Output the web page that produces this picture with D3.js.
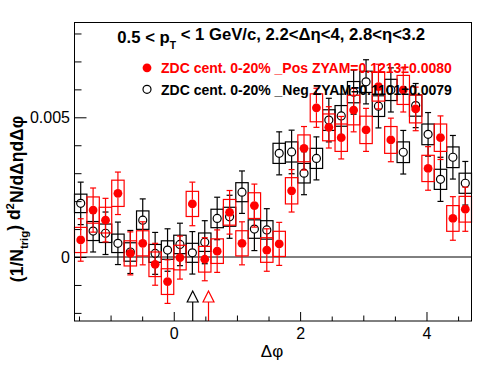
<!DOCTYPE html>
<html><head><meta charset="utf-8">
<script src="https://cdn.jsdelivr.net/npm/d3@7"></script>
<style>body{margin:0;background:#fff} svg{display:block;font-family:"Liberation Sans",Arial,Helvetica,sans-serif}</style>
</head><body><svg id="c" width="496" height="374"></svg>
<script>
// ---- data (values in units of 1e-3) ----
const nBins = 32;
const posVals = [0.61,1.68,1.32,2.28,0.13,0.49,-0.26,-0.88,-0.02,1.90,-0.08,0.21,1.60,0.49,1.84,0.25,
                 0.47,2.37,3.89,5.34,4.64,4.27,5.26,4.55,6.10,4.19,5.98,5.30,3.17,4.27,1.38,1.71];
const posStat = [0.76,0.79,0.78,0.76,0.77,0.77,0.75,0.78,0.77,0.78,0.77,0.76,0.78,0.77,0.77,0.76,
                 0.77,0.76,0.78,0.70,0.74,0.76,0.78,0.77,0.80,0.78,0.79,0.78,0.78,0.78,0.78,0.79];
const posSyst = [0.45,0.47,0.46,0.47,0.45,0.45,0.44,0.46,0.44,0.45,0.46,0.44,0.46,0.45,0.46,0.44,
                 0.45,0.47,0.48,0.50,0.48,0.49,0.53,0.49,0.52,0.48,0.52,0.50,0.47,0.49,0.46,0.46];
const negVals = [1.92,0.93,0.85,0.49,0.18,1.32,0.13,0.25,0.45,0.15,0.53,1.38,1.44,2.32,1.00,0.97,
                 3.71,3.76,3.00,3.53,4.90,5.05,5.90,6.27,5.40,5.98,3.75,5.42,4.39,2.78,3.57,2.64];
const negStat = [0.76,0.75,0.76,0.76,0.77,0.76,0.75,0.76,0.76,0.76,0.77,0.76,0.77,0.76,0.77,0.76,
                 0.77,0.78,0.77,0.77,0.78,0.78,0.79,0.79,0.78,0.79,0.78,0.79,0.78,0.79,0.78,0.78];
const negSyst = [0.33,0.34,0.33,0.33,0.33,0.33,0.32,0.33,0.33,0.34,0.33,0.33,0.34,0.34,0.33,0.33,
                 0.36,0.36,0.35,0.36,0.37,0.37,0.38,0.38,0.37,0.38,0.37,0.38,0.37,0.36,0.37,0.36];
const zyamMinPos = 0.55, zyamMinNeg = 0.30;
const xTickLabels = [0, 2, 4];
const yTickLabels = [0, 0.005];
const legendLabels = ["ZDC cent. 0-20% _Pos ZYAM=0.1213\u00b10.0080", "ZDC cent. 0-20% _Neg ZYAM=0.1101\u00b10.0079"];

// ---- layout ----
const svg = d3.select("#c");
const L = 74.5, R = 471.5, T = 22.5, B = 321;
const x = d3.scaleLinear().domain([-Math.PI/2, 3*Math.PI/2]).range([L, R]);
const y = d3.scaleLinear().domain([-0.00229, 0.008393]).range([B, T]);
const bw = 2*Math.PI/nBins;
const centers = d3.range(nBins).map(i => -Math.PI/2 + (i+0.5)*bw);
const mk = (vals, stat, syst) => centers.map((c,i)=>({c, v: vals[i]*1e-3, e: stat[i]*1e-3, s: syst[i]*1e-3}));
const pos = mk(posVals, posStat, posSyst), neg = mk(negVals, negStat, negSyst);

// axes
const fontTick = 16;
function axisX(vals, size, labels){
  const g = svg.append("g").attr("transform",`translate(0,${B})`)
    .call(d3.axisBottom(x).tickValues(vals).tickSizeInner(-size).tickSizeOuter(0).tickPadding(6.5)
      .tickFormat(labels ? d3.format("d") : ""));
  g.select(".domain").remove();
  g.selectAll("line").attr("stroke","#000").attr("stroke-width",1);
  g.selectAll("text").attr("font-size",fontTick).attr("font-family","Liberation Sans, Arial, sans-serif").attr("fill","#000");
}
axisX(d3.range(-1.5, 4.75, 0.5).filter(v=>v%1!==0), 4.5, false);
axisX([-1,1,3], 5.5, false);
axisX(xTickLabels, 9, true);

function axisY(vals, size, labels){
  const g = svg.append("g").attr("transform",`translate(${L},0)`)
    .call(d3.axisLeft(y).tickValues(vals).tickSizeInner(-size).tickSizeOuter(0).tickPadding(4.5)
      .tickFormat(labels ? (d => d===0 ? "0" : d3.format(".3f")(d)) : ""));
  g.select(".domain").remove();
  g.selectAll("line").attr("stroke","#000").attr("stroke-width",1);
  g.selectAll("text").attr("font-size",fontTick).attr("font-family","Liberation Sans, Arial, sans-serif").attr("fill","#000");
}
axisY([-0.002,-0.001,0.001,0.002,0.003,0.004,0.006,0.007,0.008], 7, false);
axisY(yTickLabels, 12, true);

// zero line
svg.append("line").attr("x1",L).attr("x2",R).attr("y1",y(0)).attr("y2",y(0)).attr("stroke","#000").attr("stroke-width",1);

// series
const pw = x(bw) - x(0);
function drawSeries(data, color, filled){
  const g = svg.append("g");
  g.selectAll("rect.sys").data(data).join("rect")
    .attr("x", d => x(d.c) - pw/2).attr("width", pw)
    .attr("y", d => y(d.v + d.s)).attr("height", d => y(d.v - d.s) - y(d.v + d.s))
    .attr("fill","none").attr("stroke",color).attr("stroke-width",1.2);
  const r = filled ? 4.4 : 4.0;
  data.forEach(d => {
    const cx = x(d.c), cy = y(d.v), yt = y(d.v + d.e), yb = y(d.v - d.e);
    g.append("line").attr("x1",cx).attr("x2",cx).attr("y1",yt).attr("y2",cy - r).attr("stroke",color).attr("stroke-width",1.2);
    g.append("line").attr("x1",cx).attr("x2",cx).attr("y1",cy + r).attr("y2",yb).attr("stroke",color).attr("stroke-width",1.2);
    g.append("line").attr("x1",cx-3).attr("x2",cx+3).attr("y1",yt).attr("y2",yt).attr("stroke",color).attr("stroke-width",1.2);
    g.append("line").attr("x1",cx-3).attr("x2",cx+3).attr("y1",yb).attr("y2",yb).attr("stroke",color).attr("stroke-width",1.2);
  });
  g.selectAll("circle").data(data).join("circle")
    .attr("cx", d => x(d.c)).attr("cy", d => y(d.v)).attr("r", r)
    .attr("fill", filled ? color : "none").attr("stroke", color).attr("stroke-width", filled ? 0 : 1.2);
}
drawSeries(neg, "#000", false);
drawSeries(pos, "#ff0000", true);

// ZYAM arrows
function arrow(v, color){
  const cx = x(v);
  svg.append("path").attr("d",`M${cx},291 L${cx-5.5},302 L${cx+5.5},302 Z`)
    .attr("fill","#fff").attr("stroke",color).attr("stroke-width",1.2);
  svg.append("line").attr("x1",cx).attr("x2",cx).attr("y1",302).attr("y2",B).attr("stroke",color).attr("stroke-width",1.2);
}
arrow(zyamMinNeg, "#000");
arrow(zyamMinPos, "#ff0000");

// frame
svg.append("rect").attr("x",L).attr("y",T).attr("width",R-L).attr("height",B-T)
  .attr("fill","none").attr("stroke","#000").attr("stroke-width",1);

// fit helper
function fit(sel, target){
  const w = sel.node().getComputedTextLength();
  const fs = parseFloat(sel.attr("font-size"));
  sel.attr("font-size", fs*target/w);
}

// title
const title = svg.append("text").attr("x",117.3).attr("y",43.3).attr("font-size",16.5).attr("font-weight","bold").attr("fill","#000");
title.append("tspan").text("0.5 < p");
title.append("tspan").attr("font-size","62%").attr("dy","0.55em").text("T");
title.append("tspan").attr("dy","-0.55em").attr("font-size","100%").text(" < 1 GeV/c, 2.2<\u0394\u03b7<4, 2.8<\u03b7<3.2");
fit(title, 308);

// legend
const legColors = ["#ff0000","#000"];
const legY = [73.3, 94.5];
legendLabels.forEach((t,i) => {
  const tx = svg.append("text").attr("x",161).attr("y",legY[i]).attr("font-size",14).attr("font-weight","bold")
    .attr("fill",legColors[i]).text(t);
  fit(tx, 291);
});
svg.append("circle").attr("cx",147).attr("cy",67.8).attr("r",4.4).attr("fill","#ff0000");
svg.append("circle").attr("cx",147).attr("cy",89.3).attr("r",4.0).attr("fill","none").attr("stroke","#000").attr("stroke-width",1.2);

// y title
const yt = svg.append("text").attr("transform","translate(22.5,199) rotate(-90)").attr("text-anchor","middle")
  .attr("font-size",17.5).attr("font-weight","bold").attr("fill","#000");
yt.append("tspan").text("(1/N");
yt.append("tspan").attr("font-size","65%").attr("dy","0.45em").text("trig");
yt.append("tspan").attr("dy","-0.45em").text(") d");
yt.append("tspan").attr("font-size","65%").attr("dy","-0.5em").text("2");
yt.append("tspan").attr("dy","0.5em").text("N/d\u0394\u03b7d\u0394\u03c6");

// x title
svg.append("text").attr("x",272).attr("y",356.5).attr("text-anchor","middle").attr("font-size",17)
  .attr("fill","#000").text("\u0394\u03c6");
</script></body></html>
